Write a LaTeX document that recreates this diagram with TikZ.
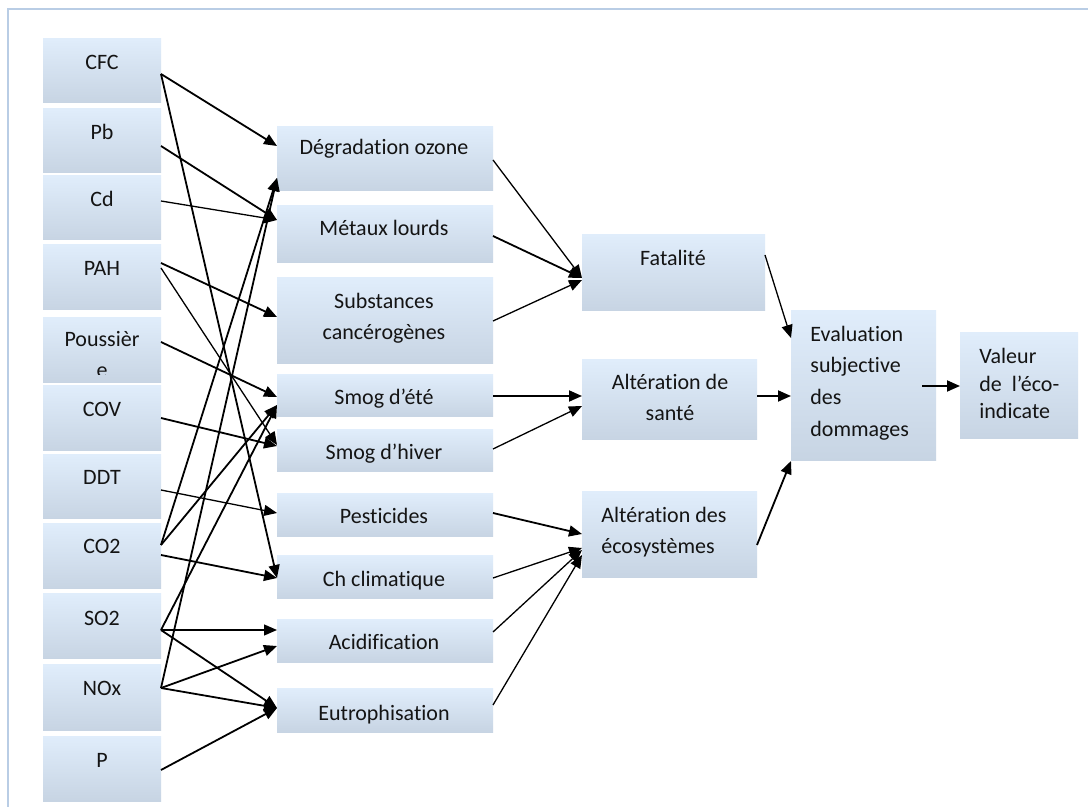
\documentclass[tikz,border=0pt]{standalone}
\usepackage{fontspec}
\setmainfont{Carlito}[Ligatures=NoCommon,RawFeature={-liga;-clig;-dlig}]
\usetikzlibrary{arrows.meta,calc}
\definecolor{boxtop}{RGB}{224,237,251}
\definecolor{boxbot}{RGB}{199,212,227}
\definecolor{framec}{RGB}{185,205,229}
\definecolor{txtc}{RGB}{20,20,20}
\tikzset{
  box/.style={draw=none, top color=boxtop, bottom color=boxbot, inner sep=0pt, outer sep=0pt},
  txt/.style={inner sep=0pt, text=txtc, font=\fontsize{11}{13}\selectfont},
  conn/.style={line width=0.9pt, -{Triangle[length=6.5pt,width=5.5pt]}},
  thin/.style={line width=0.65pt}
}
\newcommand\mybox[5]{\node[box, anchor=north west, minimum width={(#4-#2)*0.5pt}, minimum height={(#5-#3)*0.5pt}] (#1) at (#2,#3) {};}
\newcommand\ctxt[4]{\node[txt, anchor=base] (#1) at (#2,#3) {#4};}
\newcommand\ltxt[4]{\node[txt, anchor=base west] (#1) at (#2,#3) {#4};}
\newcommand\cn[5][]{\draw[conn,#1] ($(#2.north east)+(0,#3)$) -- ($(#4.north west)+(0,#5)$);}
\begin{document}
\begin{tikzpicture}[x=0.5pt,y=-0.5pt]
\useasboundingbox (0,0) rectangle (1088,807);
\fill[white] (0,0) rectangle (1088,807);
\draw[framec, line width=1pt] (8,807) -- (8,9) -- (1088,9);

% left column
\mybox{CFC}{43}{39}{161}{103}
\mybox{Pb}{43}{109}{161}{173}
\mybox{Cd}{43}{176}{161}{240}
\mybox{PAH}{43}{245}{161}{310}
\mybox{Pou}{43}{318}{161}{383}
\mybox{COV}{43}{386}{161}{451}
\mybox{DDT}{43}{455}{161}{519}
\mybox{CO2}{43}{524}{161}{589}
\mybox{SO2}{43}{594}{161}{659}
\mybox{NOx}{43}{665}{161}{730}
\mybox{P}{43}{736}{161}{801}

\ctxt{CFCt}{102}{70}{CFC}
\ctxt{Pbt}{102}{140}{Pb}
\ctxt{Cdt}{102}{207}{Cd}
\ctxt{PAHt}{102}{276}{PAH}
\ctxt{Pout}{102}{347}{Poussièr}
\begin{scope}
\clip (43,318) rectangle (161,375);
\ctxt{Pout2}{102}{378}{e}
\end{scope}
\ctxt{COVt}{102}{417}{COV}
\ctxt{DDTt}{102}{485}{DDT}
\ctxt{CO2t}{102}{554}{CO2}
\ctxt{SO2t}{102}{625}{SO2}
\ctxt{NOxt}{102}{696}{NOx}
\ctxt{Pt}{102}{767}{P}

% middle column
\mybox{Deg}{277}{127}{493}{191}
\mybox{Met}{277}{206}{493}{263}
\mybox{Sub}{277}{278}{493}{364}
\mybox{SmE}{277}{375}{493}{417}
\mybox{SmH}{277}{430}{493}{472}
\mybox{Pes}{277}{494}{493}{537}
\mybox{ChC}{277}{556}{493}{599}
\mybox{Aci}{277}{620}{493}{663}
\mybox{Eut}{277}{689}{493}{732}

\ctxt{Degt}{384}{155}{Dégradation ozone}
\ctxt{Mett}{384}{236}{Métaux lourds}
\ctxt{Subt}{384}{309}{Substances}
\ctxt{Subt2}{384}{340}{cancérogènes}
\ctxt{SmEt}{384}{405}{Smog d’été}
\ctxt{SmHt}{384}{460}{Smog d’hiver}
\ctxt{Pest}{384}{524}{Pesticides}
\ctxt{ChCt}{384}{587}{Ch climatique}
\ctxt{Acit}{384}{650}{Acidification}
\ctxt{Eutt}{384}{720}{Eutrophisation}

% third column
\mybox{Fat}{582}{235}{765}{311}
\mybox{San}{582}{360}{757}{440}
\mybox{Eco}{582}{492}{757}{578}
\ctxt{Fatt}{673}{266}{Fatalité}
\ctxt{Sant}{670}{390}{Altération de}
\ctxt{Sant2}{670}{421}{santé}
\ltxt{Ecot}{601}{523}{Altération des}
\ltxt{Ecot2}{601}{554}{écosystèmes}

% evaluation and value
\mybox{Eval}{791}{311}{936}{461}
\mybox{Val}{960}{333}{1078}{439}
\ltxt{Evalt}{810}{342}{Evaluation}
\ltxt{Evalt2}{810}{373}{subjective}
\ltxt{Evalt3}{810}{405}{des}
\ltxt{Evalt4}{810}{437}{dommages}
\ltxt{Valt}{979}{364}{Valeur}
\ltxt{Valt2}{979}{392}{de\ \ l’éco-}
\ltxt{Valt3}{979}{419}{indicate}

% connectors: substances -> impacts
\cn{CFC}{35}{Deg}{19}
\cn{CFC}{35}{ChC}{22}
\cn{Pb}{37}{Met}{14}
\cn[thin]{Cd}{25}{Met}{14}
\cn{PAH}{18}{Sub}{39}
\cn[thin]{PAH}{23}{SmH}{15}
\cn{Pou}{24}{SmE}{22}
\cn{COV}{32}{SmH}{16}
\cn[thin]{DDT}{35}{Pes}{19}
\cn{CO2}{21}{Deg}{51}
\cn{CO2}{21}{SmE}{30}
\cn{CO2}{31}{ChC}{22}
\cn{SO2}{36}{SmE}{30}
\cn[thin]{SO2}{36}{Aci}{10}
\cn{SO2}{36}{Eut}{19}
\cn{NOx}{23}{Deg}{51}
\cn{NOx}{23}{Aci}{26}
\cn{NOx}{23}{Eut}{19}
\cn{P}{34}{Eut}{19}

% impacts -> damages
\cn[thin]{Deg}{33}{Fat}{43}
\cn{Met}{30}{Fat}{43}
\cn[thin]{Sub}{43}{Fat}{45}
\cn{SmE}{21}{San}{36}
\cn[thin]{SmH}{19}{San}{46}
\cn{Pes}{19}{Eco}{42}
\cn[thin]{ChC}{22}{Eco}{56}
\cn[thin]{Aci}{12}{Eco}{58}
\cn[thin]{Eut}{16}{Eco}{63}

% damages -> evaluation
\cn[thin]{Fat}{20}{Eval}{27}
\cn{San}{36}{Eval}{85}
\cn{Eco}{53}{Eval}{150}
\draw[conn] ($(Eval.north east)+(-14,75)$) -- ($(Val.north west)+(0,53)$);
\end{tikzpicture}
\end{document}
